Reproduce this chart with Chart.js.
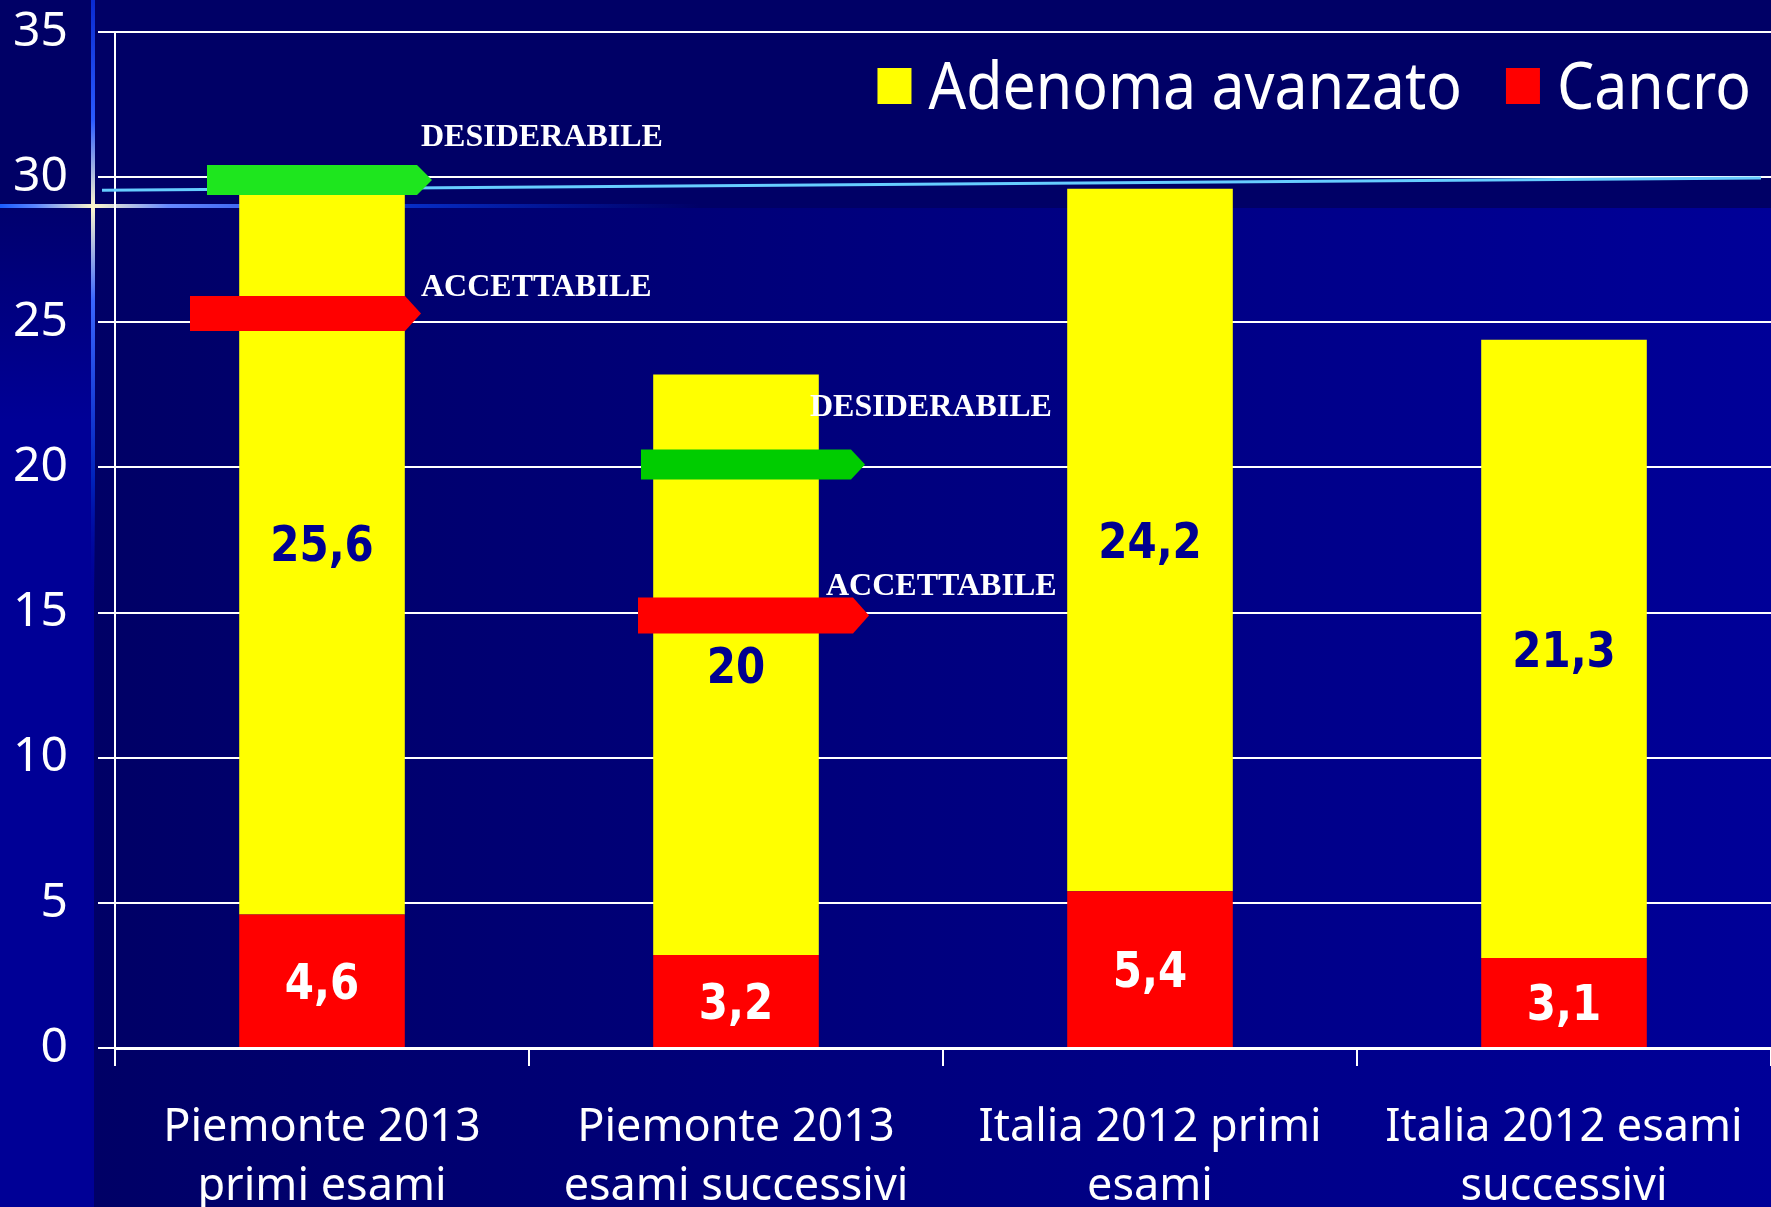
<!DOCTYPE html>
<html><head><meta charset="utf-8">
<script src="https://cdn.jsdelivr.net/npm/chart.js@4.4.1/dist/chart.umd.min.js"></script>
<style>
html,body{margin:0;padding:0;background:#000066;overflow:hidden}
#wrap{width:1771px;height:1207px;position:relative}
</style></head>
<body><div id="wrap"><canvas id="c"></canvas></div>
<script>
// ---- data ----
const categories = [['Piemonte 2013','primi esami'],['Piemonte 2013','esami successivi'],['Italia 2012 primi','esami'],['Italia 2012 esami','successivi']];
const seriesNames = ['Cancro','Adenoma avanzato'];
const cancro = [4.6, 3.2, 5.4, 3.1];
const adenoma = [25.6, 20, 24.2, 21.3];
const yTicks = [0, 5, 10, 15, 20, 25, 30, 35];
const thresholdNames = ['DESIDERABILE', 'ACCETTABILE'];
const thresholdBars = [0, 1];          // category index carrying the markers
const desiderabile = [29.9, 20.1];
const accettabile = [25.3, 14.9];
const guideLine = [29.55, 29.97];      // decorative light-blue line (left, right)

// ---- styles ----
const arrowStyles = [
  {des:{l:-115, body:95, tip:110, h:30, color:'#1ee61e'}, acc:{l:-132, body:83, tip:99, h:35, color:'#ff0000'},
   desText:{dx:99, dy:-45}, accText:{dx:99, dy:-29}},
  {des:{l:-95, body:115, tip:129, h:30, color:'#00cc00'}, acc:{l:-98, body:117, tip:133, h:36, color:'#ff0000'},
   desText:{dx:74, dy:-60}, accText:{dx:90, dy:-31}}
];

const fmt = v => String(v).replace('.', ',');

const bgPlugin = {
  id:'bg',
  beforeDraw(chart){
    const {ctx, width, height} = chart;
    const splitY = 208, stripX = 94;
    ctx.save();
    ctx.fillStyle = '#000066';
    ctx.fillRect(0, 0, width, height);
    const g = ctx.createLinearGradient(stripX, 0, width, 0);
    g.addColorStop(0, '#000066'); g.addColorStop(1, '#000098');
    ctx.fillStyle = g;
    ctx.fillRect(stripX, splitY, width - stripX, height - splitY);
    const s = ctx.createLinearGradient(0, splitY, 0, 420);
    s.addColorStop(0, '#00006e'); s.addColorStop(1, '#000096');
    ctx.fillStyle = s;
    ctx.fillRect(0, splitY, stripX, height - splitY);
    // glow lines
    const hg = ctx.createLinearGradient(0, 0, 700, 0);
    hg.addColorStop(0, '#1a5cff'); hg.addColorStop(0.05, '#5a84ff'); hg.addColorStop(0.134, '#fff8cc');
    hg.addColorStop(0.24, '#6688ff'); hg.addColorStop(0.5, '#0a3add'); hg.addColorStop(1, 'rgba(0,40,200,0)');
    ctx.fillStyle = hg; ctx.fillRect(0, 204, 700, 4);
    const vg = ctx.createLinearGradient(0, 0, 0, 600);
    vg.addColorStop(0, '#0a2ad0'); vg.addColorStop(0.2, '#2a5aff'); vg.addColorStop(0.345, '#fff8cc');
    vg.addColorStop(0.5, '#3a66ff'); vg.addColorStop(0.8, '#0022bb'); vg.addColorStop(1, 'rgba(0,0,150,0)');
    ctx.fillStyle = vg; ctx.fillRect(91, 0, 4, 600);
    ctx.restore();
  }
};

const guidePlugin = {
  id:'guide',
  beforeDatasetsDraw(chart){
    const {ctx, chartArea, scales:{y}} = chart;
    ctx.save();
    ctx.strokeStyle = '#66ccff';
    ctx.lineWidth = 3;
    ctx.beginPath();
    ctx.moveTo(chartArea.left - 13, y.getPixelForValue(guideLine[0]));
    ctx.lineTo(chartArea.right - 10, y.getPixelForValue(guideLine[1]));
    ctx.stroke();
    ctx.restore();
  }
};

const labelPlugin = {
  id:'vlabels',
  afterDatasetsDraw(chart){
    const {ctx} = chart;
    ctx.save();
    ctx.font = 'bold 42px "DejaVu Sans", sans-serif';
    ctx.textAlign = 'center';
    ctx.textBaseline = 'alphabetic';
    chart.data.datasets.forEach((ds, di) => {
      const meta = chart.getDatasetMeta(di);
      meta.data.forEach((bar, i) => {
        const cy = (bar.y + bar.base) / 2;
        ctx.save();
        ctx.translate(bar.x, cy);
        ctx.scale(1, 1.17);
        ctx.fillStyle = di === 0 ? '#ffffff' : '#000090';
        ctx.fillText(fmt(ds.data[i]), 0, 15.3);
        ctx.restore();
      });
    });
    ctx.restore();
  }
};

function drawArrow(ctx, cx, cy, st){
  const top = cy - st.h/2, bot = cy + st.h/2;
  ctx.fillStyle = st.color;
  ctx.beginPath();
  ctx.moveTo(cx + st.l, top);
  ctx.lineTo(cx + st.body, top);
  ctx.lineTo(cx + st.tip, cy);
  ctx.lineTo(cx + st.body, bot);
  ctx.lineTo(cx + st.l, bot);
  ctx.closePath();
  ctx.fill();
}

const arrowPlugin = {
  id:'arrows',
  afterDatasetsDraw(chart){
    const {ctx, scales:{y}} = chart;
    const meta = chart.getDatasetMeta(1);
    ctx.save();
    thresholdBars.forEach((ci, k) => {
      const cx = meta.data[ci].x;
      const st = arrowStyles[k];
      const yd = y.getPixelForValue(desiderabile[k]);
      const ya = y.getPixelForValue(accettabile[k]);
      drawArrow(ctx, cx, yd, st.des);
      drawArrow(ctx, cx, ya, st.acc);
      ctx.fillStyle = '#ffffff';
      ctx.font = 'bold 32px "Liberation Serif", "Times New Roman", serif';
      ctx.textAlign = 'left';
      ctx.textBaseline = 'alphabetic';
      ctx.fillText(thresholdNames[0], cx + st.desText.dx, yd + st.desText.dy + 11);
      ctx.fillText(thresholdNames[1], cx + st.accText.dx, ya + st.accText.dy + 11);
    });
    ctx.restore();
  }
};

// legend drawn inside the plot area, top-right (order reversed: Adenoma first)
const legendPlugin = {
  id:'insideLegend',
  afterDraw(chart){
    const {ctx, chartArea} = chart;
    const items = chart.data.datasets.map(ds => ({text: ds.label, color: ds.backgroundColor})).reverse();
    const font = '59px "Noto Sans", sans-serif';
    const box = 34, boxH = 36, gapText = 17, gapItem = 44;
    const cy = chartArea.top + 53;
    ctx.save();
    ctx.font = font;
    let x = chartArea.right - 20;
    const pos = [];
    for (let i = items.length - 1; i >= 0; i--) {
      const w = ctx.measureText(items[i].text).width;
      const tx = x - w;
      const bx = tx - gapText - box;
      pos[i] = {tx, bx};
      x = bx - gapItem;
    }
    items.forEach((it, i) => {
      ctx.fillStyle = it.color;
      ctx.fillRect(pos[i].bx, cy - boxH/2 + 1, box, boxH);
      ctx.save();
      ctx.translate(pos[i].tx, cy);
      ctx.scale(1, 1.12);
      ctx.fillStyle = '#ffffff';
      ctx.textAlign = 'left';
      ctx.textBaseline = 'alphabetic';
      ctx.fillText(it.text, 0, 0.357 * 59);
      ctx.restore();
    });
    ctx.restore();
  }
};

new Chart(document.getElementById('c'), {
  type:'bar',
  data:{
    labels: categories,
    datasets:[
      {label: seriesNames[0], data: cancro, backgroundColor:'#ff0000', borderWidth:0},
      {label: seriesNames[1], data: adenoma, backgroundColor:'#ffff00', borderWidth:0}
    ]
  },
  options:{
    responsive:true, maintainAspectRatio:false, animation:false, devicePixelRatio:1,
    layout:{padding:{top:32, left:0, right:0, bottom:0}},
    datasets:{bar:{categoryPercentage:1, barPercentage:0.4}},
    plugins:{
      tooltip:{enabled:false},
      legend:{display:false}
    },
    scales:{
      x:{
        stacked:true,
        grid:{display:true, drawOnChartArea:false, drawTicks:true, tickLength:18, color:'#ffffff', lineWidth:2, offset:true},
        border:{display:true, color:'#ffffff', width:3},
        ticks:{color:'#ffffff', font:{family:'"Noto Sans", sans-serif', size:45, lineHeight:1.31}, padding:33, maxRotation:0, autoSkip:false},
        afterFit(s){ s.height = 159; s.paddingLeft = 0; s.paddingRight = 0; }
      },
      y:{
        stacked:true, min:0, max:35,
        afterBuildTicks(s){ s.ticks = yTicks.map(v => ({value:v})); },
        grid:{color:'#ffffff', lineWidth:2, tickLength:17},
        border:{display:true, color:'#ffffff', width:2},
        ticks:{color:'#ffffff', font:{family:'"Noto Sans", sans-serif', size:48}, padding:30},
        afterFit(s){ s.width = 115; s.paddingTop = 0; s.paddingBottom = 0; }
      }
    }
  },
  plugins:[bgPlugin, guidePlugin, labelPlugin, arrowPlugin, legendPlugin]
});
</script>
</body></html>
